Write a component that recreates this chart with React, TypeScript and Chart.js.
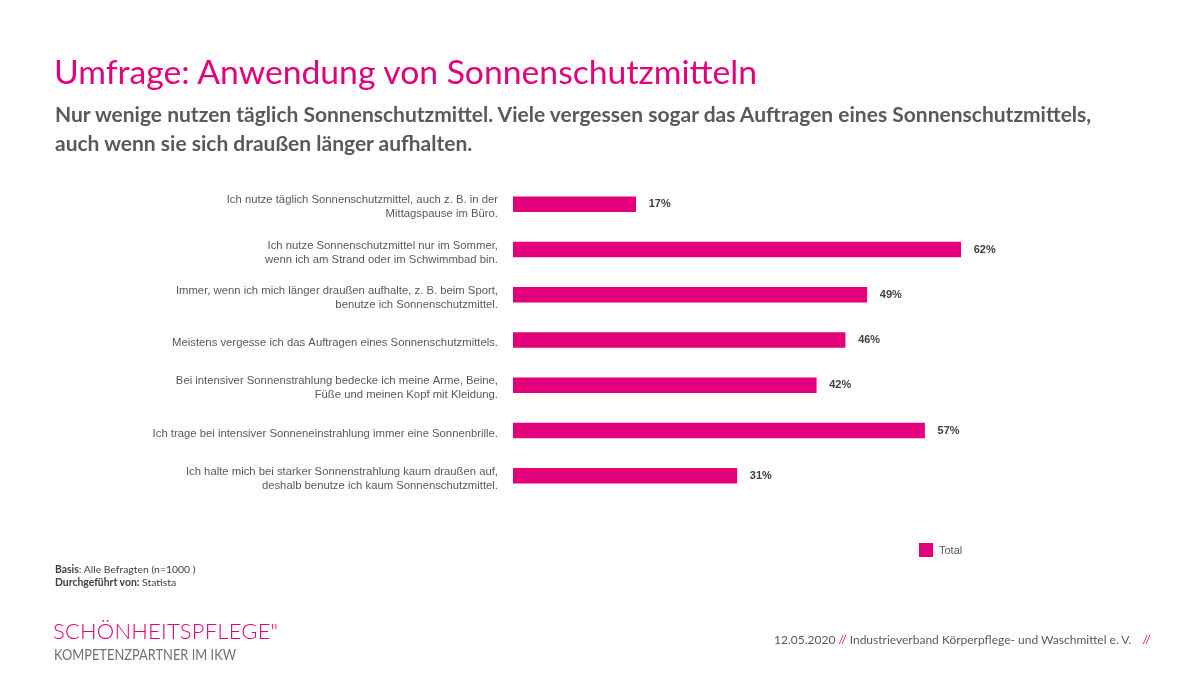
import React, { useEffect, useRef } from "react";
import { Chart, registerables } from "chart.js";

Chart.register(...registerables);

const categories: string[][] = [
  ["Ich nutze täglich Sonnenschutzmittel, auch z. B. in der", "Mittagspause im Büro."],
  ["Ich nutze Sonnenschutzmittel nur im Sommer,", "wenn ich am Strand oder im Schwimmbad bin."],
  ["Immer, wenn ich mich länger draußen aufhalte, z. B. beim Sport,", "benutze ich Sonnenschutzmittel."],
  ["Meistens vergesse ich das Auftragen eines Sonnenschutzmittels."],
  ["Bei intensiver Sonnenstrahlung bedecke ich meine Arme, Beine,", "Füße und meinen Kopf mit Kleidung."],
  ["Ich trage bei intensiver Sonneneinstrahlung immer eine Sonnenbrille."],
  ["Ich halte mich bei starker Sonnenstrahlung kaum draußen auf,", "deshalb benutze ich kaum Sonnenschutzmittel."],
];
const totalValues: number[] = [17, 62, 49, 46, 42, 57, 31];
const seriesName = "Total";

const MAGENTA = "#E3007B";
const LABEL_FONT = "'Liberation Sans', Arial, sans-serif";
const SLIDE_FONT = "Lato, 'Open Sans', sans-serif";

const valueLabelPlugin = {
  id: "valueLabels",
  afterDatasetsDraw(chart: any) {
    const ctx = chart.ctx;
    const meta = chart.getDatasetMeta(0);
    ctx.save();
    ctx.font = `bold 11px ${LABEL_FONT}`;
    ctx.fillStyle = "#404040";
    ctx.textAlign = "left";
    ctx.textBaseline = "middle";
    meta.data.forEach((bar: any, i: number) => {
      ctx.fillText(`${totalValues[i]}%`, bar.x + 13, bar.y);
    });
    ctx.restore();
  },
};

export default function App() {
  const canvasRef = useRef<HTMLCanvasElement>(null);

  useEffect(() => {
    if (!canvasRef.current) return;
    const chart = new Chart(canvasRef.current, {
      type: "bar",
      data: {
        labels: categories,
        datasets: [
          {
            label: seriesName,
            data: totalValues,
            backgroundColor: MAGENTA,
            barThickness: 15,
          },
        ],
      },
      options: {
        indexAxis: "y",
        animation: false,
        responsive: false,
        maintainAspectRatio: false,
        layout: { padding: { top: 181.6, bottom: 176.6, left: 0, right: 200 } },
        plugins: {
          legend: { display: false },
          tooltip: { enabled: false },
          title: { display: false },
        },
        scales: {
          x: {
            display: false,
            min: 0,
            max: 67.45,
          },
          y: {
            grid: { display: false },
            border: { display: false },
            ticks: {
              color: "#595959",
              padding: 7,
              labelOffset: 3,
              font: { family: LABEL_FONT, size: 11.3, lineHeight: 1.25 },
            },
            afterFit: (scale: any) => {
              scale.width = 513;
            },
          },
        },
      },
      plugins: [valueLabelPlugin],
    });
    return () => chart.destroy();
  }, []);

  const abs = (x: number, y: number): React.CSSProperties => ({
    position: "absolute",
    left: x,
    top: y,
    whiteSpace: "nowrap",
  });

  return (
    <div
      style={{
        position: "fixed",
        left: 0,
        top: 0,
        width: 1200,
        height: 675,
        background: "#ffffff",
        overflow: "hidden",
      }}
    >
      <canvas
        ref={canvasRef}
        width={1200}
        height={675}
        style={{ position: "absolute", left: 0, top: 0, width: 1200, height: 675 }}
      />
      <div
        style={{
          ...abs(54, 51),
          fontFamily: SLIDE_FONT,
          fontSize: 33.7,
          color: MAGENTA,
          lineHeight: "40px",
        }}
      >
        Umfrage: Anwendung von Sonnenschutzmitteln
      </div>
      <div
        style={{
          ...abs(55, 99),
          fontFamily: SLIDE_FONT,
          fontSize: 21,
          fontWeight: 700,
          color: "#595959",
          lineHeight: "29px",
        }}
      >
        Nur wenige nutzen täglich Sonnenschutzmittel. Viele vergessen sogar das Auftragen eines Sonnenschutzmittels,
        <br />
        auch wenn sie sich draußen länger aufhalten.
      </div>

      <div style={{ ...abs(919, 543), width: 14, height: 14, background: MAGENTA }} />
      <div
        style={{
          ...abs(939, 543),
          fontFamily: LABEL_FONT,
          fontSize: 11,
          color: "#595959",
          lineHeight: "14px",
        }}
      >
        {seriesName}
      </div>

      <div
        style={{
          ...abs(55, 563),
          fontFamily: SLIDE_FONT,
          fontSize: 10.4,
          color: "#404040",
          lineHeight: "13px",
        }}
      >
        <b>Basis</b>: Alle Befragten (n=1000 )
        <br />
        <b>Durchgeführt von:</b> Statista
      </div>

      <div
        style={{
          ...abs(53, 618),
          fontFamily: SLIDE_FONT,
          fontWeight: 300,
          fontSize: 22,
          color: MAGENTA,
          lineHeight: "26px",
          letterSpacing: 0.2,
        }}
      >
        SCHÖNHEITSPFLEGE"
      </div>
      <div
        style={{
          ...abs(54, 645),
          fontFamily: SLIDE_FONT,
          fontSize: 15.5,
          color: "#707070",
          lineHeight: "19px",
          transform: "scaleX(0.83)",
          transformOrigin: "left top",
        }}
      >
        KOMPETENZPARTNER IM IKW
      </div>

      <div
        style={{
          ...abs(774, 632),
          fontFamily: SLIDE_FONT,
          fontSize: 12,
          color: "#595959",
          lineHeight: "16px",
        }}
      >
        12.05.2020 <span style={{ color: MAGENTA }}>//</span> Industrieverband Körperpflege- und Waschmittel e. V.{" "}
        <span style={{ color: MAGENTA, marginLeft: 8 }}>//</span>
      </div>
    </div>
  );
}
